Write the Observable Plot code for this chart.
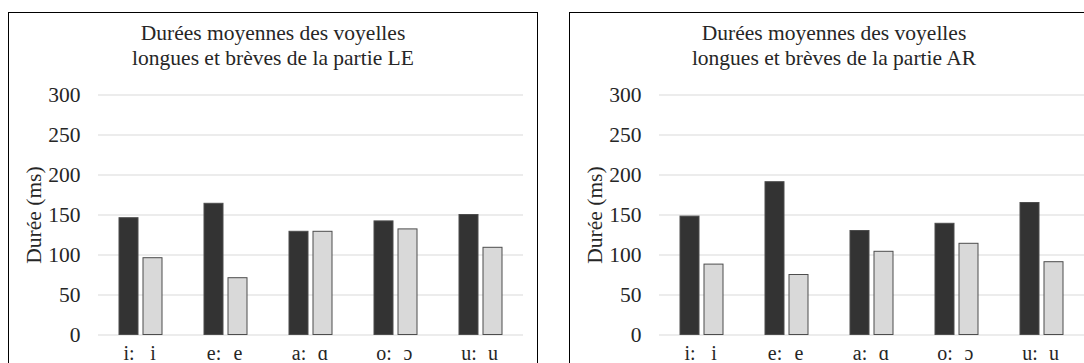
<!DOCTYPE html>
<html>
<head>
<meta charset="utf-8">
<script src="https://cdn.jsdelivr.net/npm/d3@7"></script>
<script src="https://cdn.jsdelivr.net/npm/@observablehq/plot@0.6"></script>
<style>
  html, body { margin: 0; padding: 0; background: #fff; width: 1084px; height: 363px; overflow: hidden; }
  .panel { position: absolute; top: 12px; width: 530px; height: 370px; border: 1px solid #000; box-sizing: border-box; background: #fff; }
  .title { position: absolute; left: 0; top: 8px; width: 528px; text-align: center; font-family: "Liberation Serif", serif; font-size: 21.5px; line-height: 25px; color: #262626; }
  .chart { position: absolute; left: 0; top: 0; }
</style>
</head>
<body>
<div id="p1" class="panel" style="left:8px"></div>
<div id="p2" class="panel" style="left:569px"></div>
<script>
// Data
const pairs = ["i", "e", "a", "o", "u"];
const longLabels = ["i:", "e:", "a:", "o:", "u:"];
const shortLabels = ["i", "e", "ɑ", "ɔ", "u"];
const leLong = [146, 164, 129, 142, 150];
const leShort = [96, 71, 129, 132, 109];
const arLong = [148, 191, 130, 139, 165];
const arShort = [88, 75, 104, 114, 91];
const yTicks = [0, 50, 100, 150, 200, 250, 300];
const yLabel = "Durée (ms)";
const titleLE = ["Durées moyennes des voyelles", "longues et brèves de la partie LE"];
const titleAR = ["Durées moyennes des voyelles", "longues et brèves de la partie AR"];

function makePanel(id, longVals, shortVals, titleLines) {
  const data = pairs.flatMap((p, i) => [
    {pair: p, kind: "long", label: longLabels[i], value: longVals[i]},
    {pair: p, kind: "short", label: shortLabels[i], value: shortVals[i]}
  ]);
  const chart = Plot.plot({
    width: 528,
    height: 350,
    marginLeft: 88,
    marginRight: 13,
    marginTop: 81.5,
    marginBottom: 28.5,
    style: {fontFamily: "Liberation Serif, serif", fontSize: "21.5px", color: "#262626", background: "transparent", overflow: "visible"},
    fx: {domain: pairs, paddingInner: 0, paddingOuter: 0, axis: null, label: null},
    x: {domain: ["long", "short"], paddingInner: 0.2, paddingOuter: 0.808, axis: null},
    y: {domain: [0, 300], axis: null},
    color: {domain: ["long", "short"], range: ["#333333", "#d9d9d9"]},
    marks: [
      Plot.gridY(yTicks, {stroke: "#d9d9d9", strokeOpacity: 1, strokeWidth: 1}),
      Plot.axisY(yTicks, {tickSize: 0, tickPadding: 18, label: null, fill: "#262626"}),
      Plot.barY(data, {fx: "pair", x: "kind", y: "value", fill: "kind", stroke: "#4d4d4d", strokeWidth: 1}),
      Plot.text(data, {fx: "pair", x: "kind", text: "label", frameAnchor: "bottom", lineAnchor: "bottom", dy: 24.5, fontSize: 20, fill: "#262626"}),
      Plot.text([yLabel], {fx: () => pairs[0], text: d => d, frameAnchor: "left", rotate: -90, dx: -64, textAnchor: "middle", lineAnchor: "middle", fontSize: 21.5, fill: "#262626"})
    ]
  });
  chart.classList.add("chart");
  const host = document.getElementById(id);
  host.appendChild(chart);
  const t = document.createElement("div");
  t.className = "title";
  t.innerHTML = titleLines.join("<br>");
  host.appendChild(t);
}

makePanel("p1", leLong, leShort, titleLE);
makePanel("p2", arLong, arShort, titleAR);
</script>
</body>
</html>
